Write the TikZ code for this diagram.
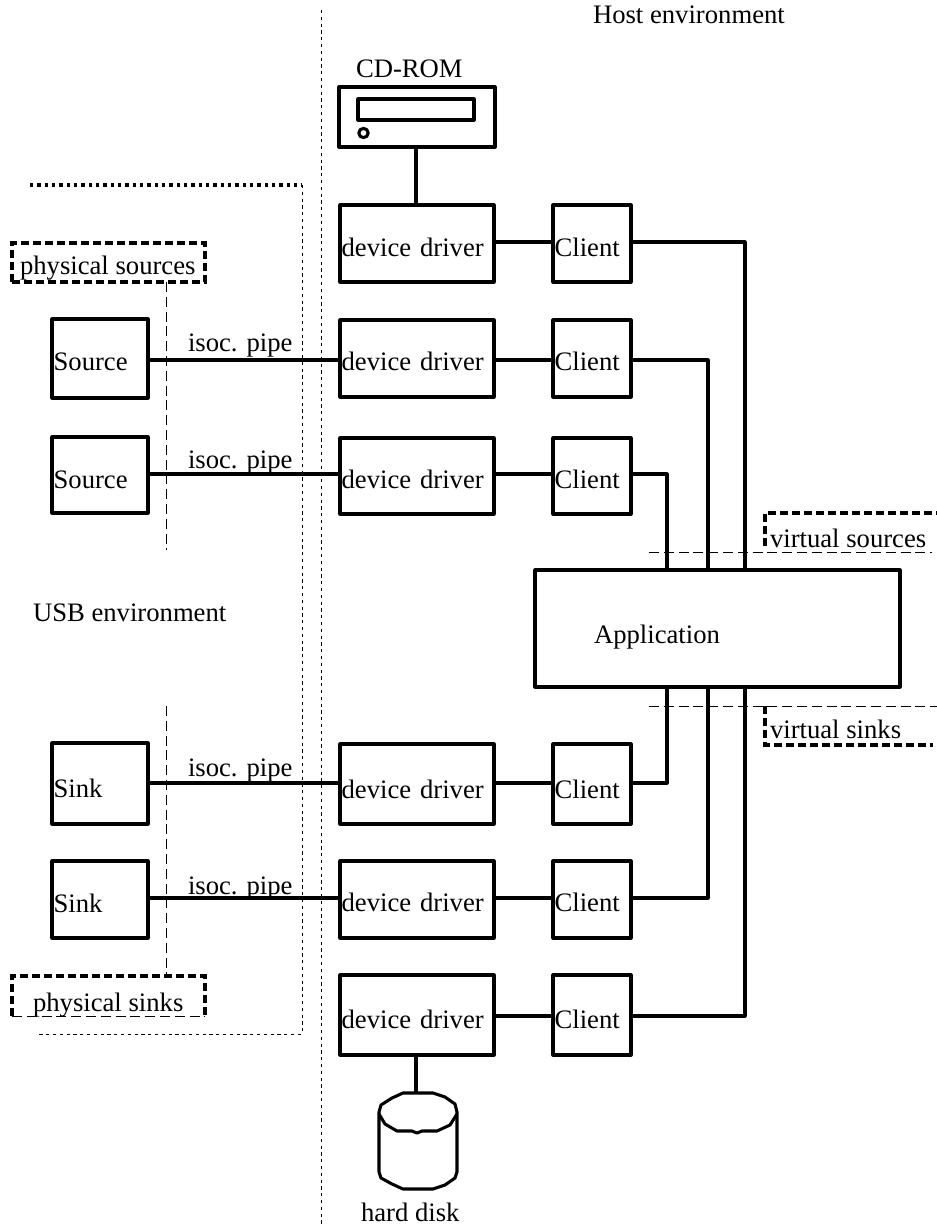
\documentclass[tikz,border=0pt]{standalone}
\usepackage{fontspec}
\setmainfont{Liberation Serif}
\begin{document}
\begin{tikzpicture}[x=0.75pt,y=-0.75pt,
  font=\fontsize{20pt}{24pt}\selectfont, text=black,
  solidline/.style={line width=2.3pt,line join=round},
  thebox/.style={draw,solidline,outer sep=0pt,inner xsep=1.2pt,inner ysep=0pt,align=left,text depth=0pt},
  ddbox/.style={thebox,text width=113.1pt},
  clbox/.style={thebox,text width=56.1pt},
  srcbox/.style={thebox,text width=69.6pt},
  lbl/.style={inner sep=0pt,outer sep=0pt,anchor=base west},
  thindot/.style={line width=0.7pt,dash pattern=on 2.4pt off 2.7pt},
  bolddot/.style={line width=2.4pt,dash pattern=on 2.4pt off 3.1pt},
  thindash/.style={line width=0.7pt,dash pattern=on 7.5pt off 3.6pt},
  bolddash/.style={line width=2.4pt,dash pattern=on 6pt off 3pt},
]
\useasboundingbox (0,0) rectangle (937,1226);
\fill[white] (0,0) rectangle (937,1226);

% environment boundaries
\draw[thindot] (321,10) -- (321,1226);
\draw[bolddot] (30,185) -- (302,185);
\draw[thindot] (302,185) -- (302,1034) -- (36,1034);

% rows
\coordinate (r1) at (0,242);
\coordinate (r2) at (0,360);
\coordinate (r3) at (0,474);
\coordinate (r4) at (0,783);
\coordinate (r5) at (0,898);
\coordinate (r6) at (0,1016);
\coordinate (va) at (667,0);
\coordinate (vb) at (708,0);
\coordinate (vc) at (745,0);

% device drivers
\node[ddbox,minimum height=57.75pt,text height=19.5pt] (d1) at (417,243.5) {device driver};
\node[ddbox,minimum height=57.75pt,text height=18.75pt] (d2) at (417,358.5) {device driver};
\node[ddbox,minimum height=57pt,text height=18pt] (d3) at (417,476) {device driver};
\node[ddbox,minimum height=60pt,text height=21pt] (d4) at (417,784) {device driver};
\node[ddbox,minimum height=57.75pt,text height=18pt] (d5) at (417,899.5) {device driver};
\node[ddbox,minimum height=60pt,text height=19.5pt] (d6) at (417,1015) {device driver};

% clients
\node[clbox,minimum height=57.75pt,text height=19.5pt] (c1) at (592,243.5) {Client};
\node[clbox,minimum height=57.75pt,text height=18.75pt] (c2) at (592,358.5) {Client};
\node[clbox,minimum height=57pt,text height=18pt] (c3) at (592,476) {Client};
\node[clbox,minimum height=60pt,text height=21pt] (c4) at (592,784) {Client};
\node[clbox,minimum height=57.75pt,text height=18pt] (c5) at (592,899.5) {Client};
\node[clbox,minimum height=60pt,text height=19.5pt] (c6) at (592,1015) {Client};

% sources and sinks
\node[srcbox,minimum height=59.25pt,text height=18.75pt] (s1) at (100,358.5) {Source};
\node[srcbox,minimum height=57pt,text height=19.5pt] (s2) at (100,475) {Source};
\node[srcbox,minimum height=60.75pt,text height=20.25pt] (s3) at (100,783.5) {Sink};
\node[srcbox,minimum height=57.75pt,text height=18.75pt] (s4) at (100,899.5) {Sink};

% application
\node[draw,solidline,outer sep=0pt,inner sep=0pt,minimum width=273.75pt,minimum height=87.75pt] (app) at (717.5,628.5) {};
\node[lbl] (apptext) at (594,643) {Application};

% CD-ROM
\node[draw,solidline,outer sep=0pt,minimum width=117pt,minimum height=45pt,inner sep=0pt] (cd) at (417,117) {};
\node[draw,solidline,outer sep=0pt,minimum width=87pt,minimum height=15.75pt,inner sep=0pt] (cdtray) at (416,109.5) {};
\node[draw,circle,solidline,outer sep=0pt,inner sep=0pt,minimum size=7pt] (cdbtn) at (363.5,133) {};
\node[lbl] (cdlabel) at (356,78) {CD-ROM};

% hard disk
\node[outer sep=0pt,inner sep=0pt,minimum width=58.5pt,minimum height=72pt] (hd) at (418,1141) {};
\draw[solidline] (379,1112) -- (381,1105) -- (392,1098) -- (403,1093) -- (433,1093)
  -- (445,1097) -- (455,1104) -- (457,1112) -- (457,1172) -- (455,1178) -- (445,1185)
  -- (433,1189) -- (403,1189) -- (392,1184) -- (381,1178) -- (379,1172) -- cycle;
\draw[solidline] (379,1114) -- (385,1124) -- (397,1131) -- (412,1131) -- (417,1133)
  -- (422,1131) -- (437,1131) -- (450,1125) -- (457,1114);
\node[lbl] (hdlabel) at (361,1221) {hard disk};

% connectors
\draw[solidline] (cd.south -| 416,0) -- (d1.north -| 416,0);
\draw[solidline] (d6.south -| 416,0) -- (hd.north -| 416,0);
\foreach \i in {1,...,6} {\draw[solidline] (d\i.east |- r\i) -- (c\i.west |- r\i);}
\draw[solidline] (s1.east |- r2) -- (d2.west |- r2);
\draw[solidline] (s2.east |- r3) -- (d3.west |- r3);
\draw[solidline] (s3.east |- r4) -- (d4.west |- r4);
\draw[solidline] (s4.east |- r5) -- (d5.west |- r5);
\draw[solidline] (c1.east |- r1) -| (vc |- app.north);
\draw[solidline] (c2.east |- r2) -| (vb |- app.north);
\draw[solidline] (c3.east |- r3) -| (va |- app.north);
\draw[solidline] (c4.east |- r4) -| (va |- app.south);
\draw[solidline] (c5.east |- r5) -| (vb |- app.south);
\draw[solidline] (c6.east |- r6) -| (vc |- app.south);

% pipe labels
\node[lbl] (p1) at (188,352) {isoc. pipe};
\node[lbl] (p2) at (188,468) {isoc. pipe};
\node[lbl] (p3) at (188,776) {isoc. pipe};
\node[lbl] (p4) at (188,894) {isoc. pipe};

% groups
\node[draw,bolddash,outer sep=0pt,inner sep=0pt,minimum width=144.75pt,minimum height=29.25pt] (ps) at (108.5,262.5) {};
\node[lbl] (pstext) at (20,275) {physical sources};
\draw[bolddash] (12,1016) -- (12,976) -- (205,976) -- (205,1016);
\coordinate (psk) at (166,976);
\draw[thindash] (12,1016) -- (205,1016);
\node[lbl] (psktext) at (33,1011) {physical sinks};
\draw[thindash] (ps.south -| 166,0) -- (166,550);
\draw[thindash] (166,706) -- (psk);

\draw[bolddash] (765,546) -- (765,513) -- (937,513);
\draw[thindash] (649,552) -- (932,552);
\node[lbl] (vstext) at (770,547) {virtual sources};
\draw[thindash] (649,706) -- (937,706);
\draw[bolddash] (765,706) -- (765,745) -- (933,745);
\node[lbl] (vsktext) at (770,738) {virtual sinks};

% environment labels
\node[lbl] (host) at (593,24) {Host environment};
\node[lbl] (usb) at (33,621) {USB environment};
\end{tikzpicture}
\end{document}
